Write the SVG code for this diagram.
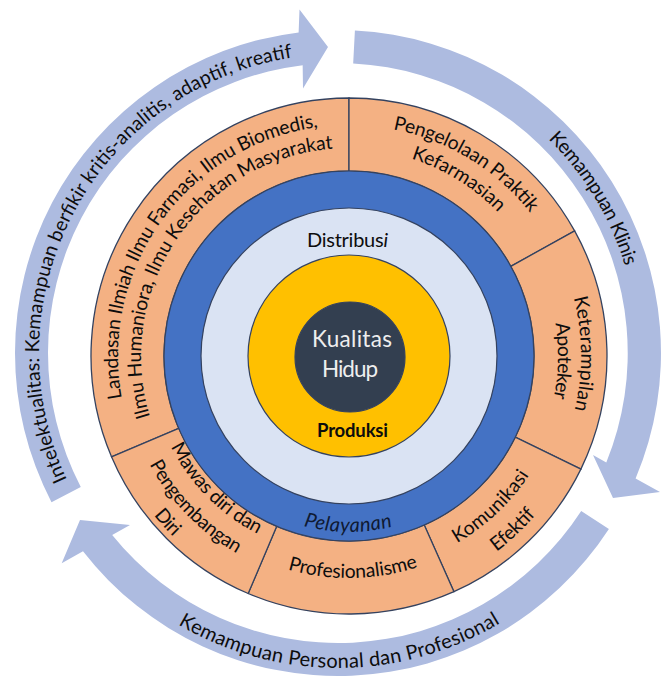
<svg xmlns="http://www.w3.org/2000/svg" width="662" height="685" viewBox="0 0 662 685">
<style>
  text { font-family: Lato, "Liberation Sans", "DejaVu Sans", sans-serif; fill: #0d0d0d; }
  .arrow { fill: #ADBBE0; }
  .arcLbl { font-size: 19.5px; }
  .seg { fill: #F4B183; stroke: #34425F; stroke-width: 1.3; }
  .segLbl { font-size: 19.3px; }
  .ring { stroke: #34425F; stroke-width: 1.2; }
</style>
<defs>
  <path id="t-land1" d="M121.87 398.10 A231 231 0 0 1 322.85 126.49"/>
  <path id="t-land2" d="M150.09 416.81 A208 208 0 0 1 338.11 148.28"/>
  <path id="t-peng1" d="M393.08 129.24 A231 231 0 0 1 532.26 215.38"/>
  <path id="t-peng2" d="M411.25 158.58 A207 207 0 0 1 499.15 213.51"/>
  <path id="t-ket1" d="M573.61 297.91 A232 232 0 0 1 574.11 412.13"/>
  <path id="t-ket2" d="M555.43 323.31 A209 209 0 0 1 553.58 398.74"/>
  <path id="t-kom1" d="M457 543.06 A216 216 0 0 0 531.17 472.06"/>
  <path id="t-kom2" d="M496.45 551.67 A245 245 0 0 0 536.68 513.48"/>
  <path id="t-prof" d="M287.81 569.40 A222 222 0 0 0 421.28 565.91"/>
  <path id="t-maw1" d="M170.80 446.80 A200 200 0 0 0 259.76 534.99"/>
  <path id="t-maw2" d="M149.51 464.32 A227 227 0 0 0 237.22 553.57"/>
  <path id="t-maw3" d="M153.72 515.27 A252 252 0 0 0 173.31 536.66"/>
  <path id="t-pel" d="M303.45 526.0 A176 176 0 0 0 394.55 526.0"/>
  <path id="t-arc1" d="M67.0 479.36 A299 299 0 0 1 296.39 56.91"/>
  <path id="t-arc2" d="M548.27 139.02 A300 300 0 0 1 625.65 267.79"/>
  <path id="t-arc3" d="M178.12 624.41 A315 315 0 0 0 505.70 619.65"/>
</defs>
<rect width="662" height="685" fill="#ffffff"/>

<g id="seg-landasan">
  <path class="seg" d="M111.51 456.81 A258 258 0 0 1 349 98 L349 171 A185 185 0 0 0 178.71 428.29 Z"/>
  <text class="segLbl"><textPath href="#t-land1" textLength="374">Landasan Ilmiah Ilmu Farmasi, Ilmu Biomedis,</textPath></text>
  <text class="segLbl"><textPath href="#t-land2" textLength="372">Ilmu Humaniora, Ilmu Kesehatan Masyarakat</textPath></text>
</g>
<g id="seg-pengelolaan">
  <path class="seg" d="M349 98 A258 258 0 0 1 574.65 230.92 L510.80 266.31 A185 185 0 0 0 349 171 Z"/>
  <text class="segLbl"><textPath href="#t-peng1" textLength="164">Pengelolaan Praktik</textPath></text>
  <text class="segLbl"><textPath href="#t-peng2" textLength="103">Kefarmasian</textPath></text>
</g>
<g id="seg-keterampilan">
  <path class="seg" d="M574.65 230.92 A258 258 0 0 1 580.89 469.10 L515.28 437.10 A185 185 0 0 0 510.80 266.31 Z"/>
  <text class="segLbl"><textPath href="#t-ket1" textLength="113">Keterampilan</textPath></text>
  <text class="segLbl"><textPath href="#t-ket2" textLength="75">Apoteker</textPath></text>
</g>
<g id="seg-komunikasi">
  <path class="seg" d="M580.89 469.10 A258 258 0 0 1 453.94 591.70 L424.25 525.01 A185 185 0 0 0 515.28 437.10 Z"/>
  <text class="segLbl"><textPath href="#t-kom1" textLength="100">Komunikasi</textPath></text>
  <text class="segLbl"><textPath href="#t-kom2" textLength="54">Efektif</textPath></text>
</g>
<g id="seg-profesionalisme">
  <path class="seg" d="M453.94 591.70 A258 258 0 0 1 248.19 593.49 L276.71 526.29 A185 185 0 0 0 424.25 525.01 Z"/>
  <text class="segLbl"><textPath href="#t-prof" textLength="132">Profesionalisme</textPath></text>
</g>
<g id="seg-mawas">
  <path class="seg" d="M248.19 593.49 A258 258 0 0 1 111.51 456.81 L178.71 428.29 A185 185 0 0 0 276.71 526.29 Z"/>
  <text class="segLbl"><textPath href="#t-maw1" textLength="125">Mawas diri dan</textPath></text>
  <text class="segLbl"><textPath href="#t-maw2" textLength="126">Pengembangan</textPath></text>
  <text class="segLbl"><textPath href="#t-maw3" textLength="29">Diri</textPath></text>
</g>

<g id="ring-pelayanan">
  <circle class="ring" cx="349" cy="356" r="185" fill="#4472C4"/>
  <text style="font-size:20px;font-style:italic;fill:#0f1a33"><textPath href="#t-pel" textLength="90">Pelayanan</textPath></text>
</g>
<g id="ring-distribusi">
  <circle class="ring" cx="349" cy="356" r="148" fill="#DAE3F3"/>
  <text x="347.5" y="247" text-anchor="middle" style="font-size:20px" textLength="81">Distribus<tspan style="font-style:italic">i</tspan></text>
</g>
<g id="ring-produksi">
  <circle class="ring" cx="349" cy="356" r="101" fill="#FFC000"/>
  <text x="352.5" y="437" text-anchor="middle" style="font-size:18.5px;font-weight:bold" textLength="71">Produksi</text>
</g>
<g id="core-kualitas">
  <circle class="ring" cx="350" cy="357" r="55" fill="#333F50"/>
  <text x="352" y="347" text-anchor="middle" style="font-size:22.5px;fill:#EEEEEE" textLength="80">Kualitas</text>
  <text x="350" y="377" text-anchor="middle" style="font-size:22.5px;fill:#EEEEEE" textLength="56">Hidup</text>
</g>

<g id="connectors">
  <g id="arrow-intelektualitas">
    <path class="arrow" d="M51.5 502.15 A323 323 0 0 1 298.64 32.41 L299.5 9.5 L328 47 L303 88.5 L302.66 65.16 A290 290 0 0 0 80.77 486.91 Z"/>
    <text class="arcLbl"><textPath href="#t-arc1" textLength="554">Intelektualitas: Kemampuan berfikir kritis-analitis, adaptif, kreatif</textPath></text>
  </g>
  <g id="arrow-klinis">
    <path class="arrow" d="M354.91 30.44 A323 323 0 0 1 635.6 478.5 L660 492 L613 498 L593 455 L606.3 462.4 A290 290 0 0 0 353.18 63.40 Z"/>
    <text class="arcLbl"><textPath href="#t-arc2" textLength="150">Kemampuan Klinis</textPath></text>
  </g>
  <g id="arrow-personal">
    <path class="arrow" d="M608.89 528.92 A323 323 0 0 1 83.0 551.3 L61.7 563.3 L80 520 L130 525 L112.2 535.0 A290 290 0 0 0 581.21 510.95 Z"/>
    <text class="arcLbl" style="font-size:20px"><textPath href="#t-arc3" textLength="338">Kemampuan Personal dan Profesional</textPath></text>
  </g>
</g>
</svg>
